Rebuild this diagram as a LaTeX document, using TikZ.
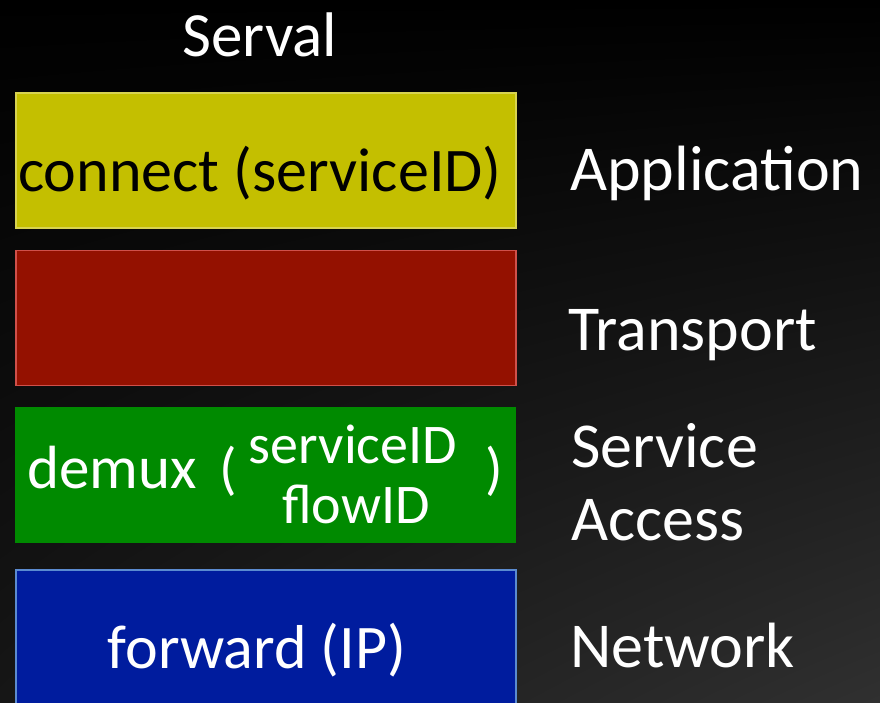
\documentclass[tikz,border=0pt]{standalone}
\usepackage{fontspec}
\setmainfont{Carlito}
\usetikzlibrary{shadings}
\definecolor{yel}{HTML}{C4BF00}
\definecolor{yelb}{HTML}{D8D350}
\definecolor{redf}{HTML}{941100}
\definecolor{redb}{HTML}{D0504A}
\definecolor{grn}{HTML}{008A00}
\definecolor{blu}{HTML}{001C9E}
\definecolor{blub}{HTML}{5B8BD0}
\definecolor{bgl}{HTML}{303030}
\definecolor{bgm}{HTML}{161616}
\begin{document}
\begin{tikzpicture}[x=1pt,y=-1pt,
  layer/.style={rectangle,minimum width=500pt,minimum height=135pt,inner sep=0pt,line width=1.2pt},
  big/.style={font=\fontsize{62}{70}\selectfont,inner sep=0pt},
  lab/.style={font=\fontsize{64}{72}\selectfont,text=white,inner sep=0pt,anchor=base west},
  mid/.style={text=white,inner sep=0pt,anchor=base}]
\useasboundingbox (0,0) rectangle (880,702);
\shade[upper left=black,upper right=black,lower left=bgm,lower right=bgl] (0,0) rectangle (880,702);
\begin{scope}
\clip (0,0) rectangle (880,702);
\node[layer,fill=yel,draw=yelb] (app) at (266,160.5) {};
\node[layer,fill=redf,draw=redb] (tr) at (266,318) {};
\node[layer,fill=grn,minimum width=501pt,minimum height=136pt] (sa) at (265.5,475) {};
\node[layer,fill=blu,draw=blub,minimum height=150pt] (net) at (266,645) {};
\end{scope}
\node[big,text=black,anchor=base west] (t1) at (18,191.5) {connect (serviceID)};
\node[mid,anchor=base west,font=\fontsize{61}{60}\selectfont] (d1) at (27,488) {demux};
\node[mid,anchor=base west,font=\fontsize{58}{60}\selectfont] (d1p) at (219,488) {(};
\node[mid,font=\fontsize{56}{56}\selectfont] (d2) at (353,463) {serviceID};
\node[mid,font=\fontsize{56}{56}\selectfont] (d2b) at (356,523) {flowID};
\node[mid,anchor=base west,font=\fontsize{58}{60}\selectfont] (d3) at (485,488) {)};
\node[big,text=white,anchor=base] (t4) at (257,668) {forward (IP)};
\node[lab,font=\fontsize{63}{70}\selectfont] (serval) at (182,56) {Serval};
\node[lab] (l1) at (570,190) {Application};
\node[lab] (l2) at (568,350) {Transport};
\node[lab] (l3) at (571,467) {Service};
\node[lab] (l3b) at (571,540) {Access};
\node[lab] (l4) at (570,667) {Network};
\end{tikzpicture}
\end{document}
